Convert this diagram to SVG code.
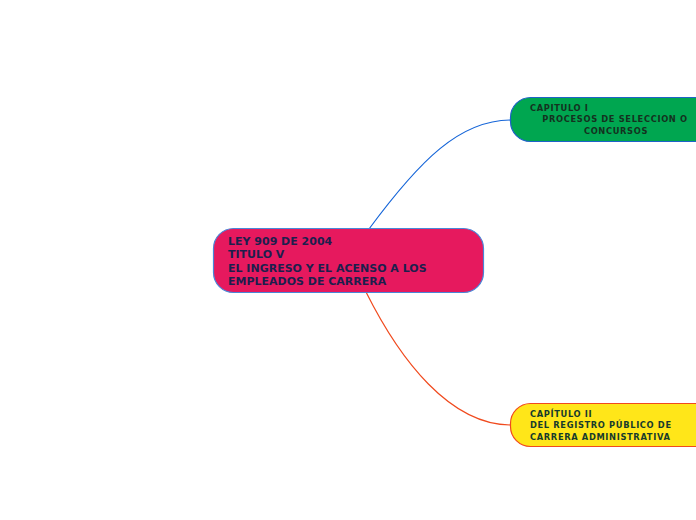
<svg xmlns="http://www.w3.org/2000/svg" width="696" height="520" viewBox="0 0 696 520">
<style>
.t{font-family:"DejaVu Sans",Verdana,sans-serif;font-weight:bold}
.main{font-size:11px;fill:#1c1f4d}
.sub{font-size:8.3px;letter-spacing:0.65px}
.c{fill:none;stroke-width:1.2}
</style>
<rect width="696" height="520" fill="#ffffff"/>
<g id="connectors">
<path class="c" d="M369,229 C420,160 460,120 511,120" stroke="#1565d8"/>
<path class="c" d="M366,292 C400,360 450,425 511,425" stroke="#f04a1e"/>
</g>
<g id="root">
<rect x="213.5" y="228.5" width="270" height="64" rx="20" fill="#e6195e" stroke="#4a86d8" stroke-width="1.2"/>
<text class="t main" x="228" y="245">LEY 909 DE 2004</text>
<text class="t main" x="228" y="258">TITULO V</text>
<text class="t main" x="228" y="272">EL INGRESO Y EL ACENSO A LOS</text>
<text class="t main" x="228" y="285">EMPLEADOS DE CARRERA</text>
</g>
<g id="cap1">
<rect x="510.5" y="97.5" width="210" height="44" rx="20" fill="#00a650" stroke="#1f62c8" stroke-width="1.2"/>
<text class="t sub" x="530" y="111" fill="#14321f">CAPITULO I</text>
<text class="t sub" x="615" y="122" fill="#14321f" text-anchor="middle">PROCESOS DE SELECCION O</text>
<text class="t sub" x="616" y="134" fill="#14321f" text-anchor="middle">CONCURSOS</text>
</g>
<g id="cap2">
<rect x="510.5" y="403.5" width="210" height="43" rx="20" fill="#ffe619" stroke="#f04a1e" stroke-width="1.2"/>
<text class="t sub" x="530" y="417" fill="#173b2c">CAPÍTULO II</text>
<text class="t sub" x="530" y="428" fill="#173b2c">DEL REGISTRO PÚBLICO DE</text>
<text class="t sub" x="530" y="440" fill="#173b2c">CARRERA ADMINISTRATIVA</text>
</g>
</svg>
